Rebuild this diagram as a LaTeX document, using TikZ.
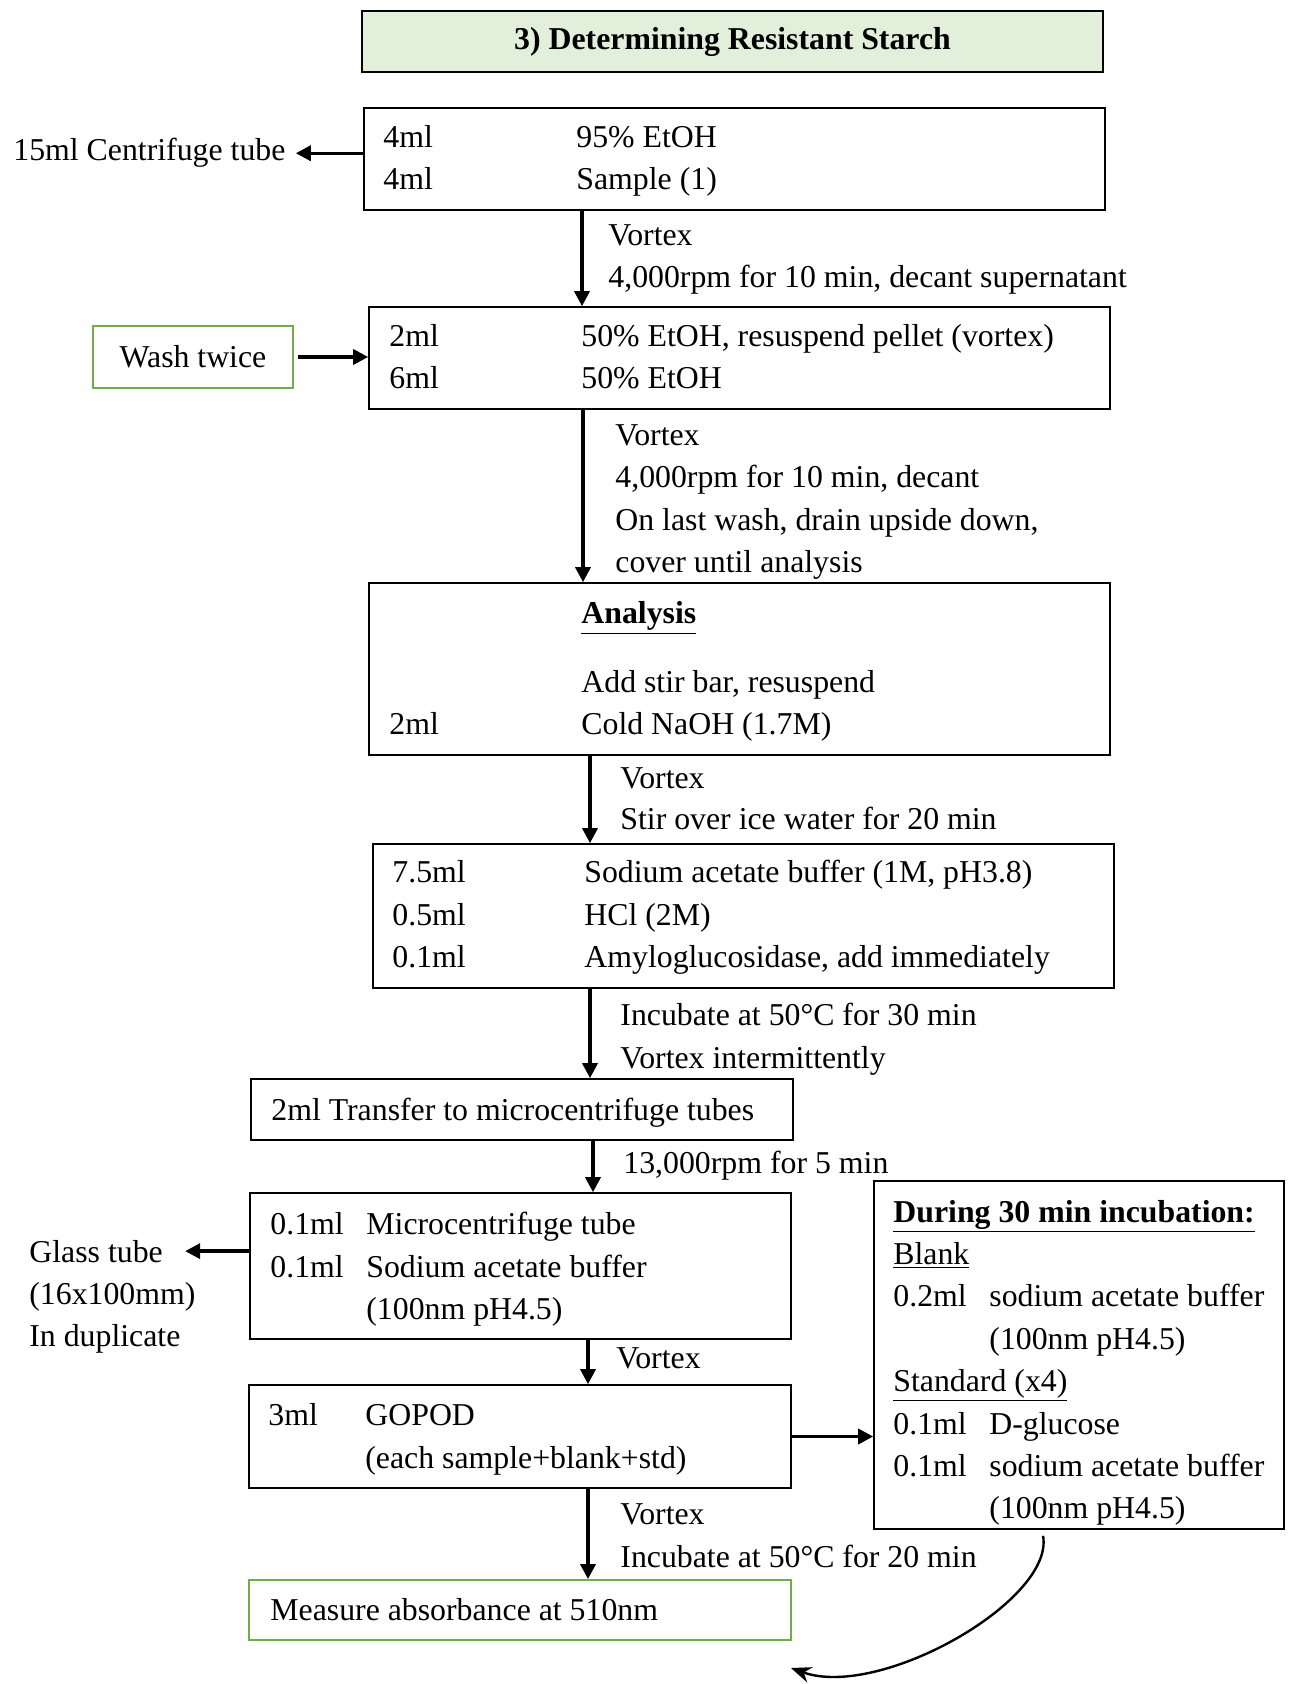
\documentclass[tikz,border=0pt]{standalone}
\usepackage{fontspec}
\setmainfont{Liberation Serif}
\usetikzlibrary{arrows.meta}
\definecolor{gborder}{HTML}{70AD47}
\definecolor{gfill}{HTML}{E2EFDA}
\begin{document}
\begin{tikzpicture}[x=0.5pt,y=-0.5pt,
    font=\fontsize{15.9pt}{19pt}\selectfont,
    box/.style={draw, line width=0.8pt, inner sep=0pt},
    gbox/.style={draw=gborder, line width=0.9pt, inner sep=0pt},
    txt/.style={anchor=mid west, inner sep=0pt, yshift=-3.2pt},
    arr/.style={line width=1.7pt, -{Triangle[length=7.5pt,width=7.5pt]}},
    curvearr/.style={line width=1.2pt, -{Stealth[length=10pt,width=8pt]}}]
  \useasboundingbox (0,0) rectangle (1293,1684);
  % title
  \node[box, fill=gfill, line width=1.2pt, minimum width=370.5pt, minimum height=30.5pt]
    (title) at (732.5,41.5) {\textbf{3) Determining Resistant Starch}};
  % boxes
  \node[box, minimum width=370.5pt, minimum height=51pt] (b1) at (734.5,159) {};
  \node[box, minimum width=370.5pt, minimum height=51pt] (b2) at (739.5,358) {};
  \node[box, minimum width=370.5pt, minimum height=86pt] (b3) at (739.5,669) {};
  \node[box, minimum width=370.5pt, minimum height=72pt] (b4) at (743.5,916) {};
  \node[box, minimum width=271pt, minimum height=30.5pt] (b5) at (522,1109.5) {};
  \node[box, minimum width=270.5pt, minimum height=73pt] (b6) at (520.5,1266) {};
  \node[box, minimum width=271pt, minimum height=51.5pt] (b7) at (520,1436.5) {};
  \node[gbox, minimum width=271pt, minimum height=30pt] (meas) at (520,1610) {};
  \node[box, minimum width=205pt, minimum height=174pt] (dur) at (1079,1355) {};
  \node[gbox, minimum width=100pt, minimum height=31pt] (wash) at (193,357) {Wash twice\hspace{5pt}};
  % box texts
  \node[txt] (b1a) at (383,137) {4ml};
  \node[txt] (b1b) at (576,137) {95\% EtOH};
  \node[txt] (b1c) at (383,179) {4ml};
  \node[txt] (b1d) at (576,179) {Sample (1)};
  \node[txt] (b2a) at (389,336) {2ml};
  \node[txt] (b2b) at (581,336) {50\% EtOH, resuspend pellet (vortex)};
  \node[txt] (b2c) at (389,378) {6ml};
  \node[txt] (b2d) at (581,378) {50\% EtOH};
  \node[txt] (b3a) at (581,613) {\underline{\textbf{Analysis}}};
  \node[txt] (b3b) at (581,682) {Add stir bar, resuspend};
  \node[txt] (b3c) at (389,724) {2ml};
  \node[txt] (b3d) at (581,724) {Cold NaOH (1.7M)};
  \node[txt] (b4a) at (392,872) {7.5ml};
  \node[txt] (b4b) at (584,872) {Sodium acetate buffer (1M, pH3.8)};
  \node[txt] (b4c) at (392,915) {0.5ml};
  \node[txt] (b4d) at (584,915) {HCl (2M)};
  \node[txt] (b4e) at (392,957) {0.1ml};
  \node[txt] (b4f) at (584,957) {Amyloglucosidase, add immediately};
  \node[txt] (b5a) at (271,1109) {2ml Transfer to microcentrifuge tubes};
  \node[txt] (b6a) at (270,1223) {0.1ml};
  \node[txt] (b6b) at (366,1223) {Microcentrifuge tube};
  \node[txt] (b6c) at (270,1266) {0.1ml};
  \node[txt] (b6d) at (366,1266) {Sodium acetate buffer};
  \node[txt] (b6e) at (366,1308) {(100nm pH4.5)};
  \node[txt] (b7a) at (268,1414) {3ml};
  \node[txt] (b7b) at (365,1414) {GOPOD};
  \node[txt] (b7c) at (365,1457) {(each sample+blank+std)};
  \node[txt] (measa) at (270,1609) {Measure absorbance at 510nm};
  \node[txt] (dura) at (893,1211) {\underline{\textbf{During 30 min incubation:}}};
  \node[txt] (durb) at (893,1253) {\underline{Blank}};
  \node[txt] (durc) at (893,1295) {0.2ml};
  \node[txt] (durd) at (989,1295) {sodium acetate buffer};
  \node[txt] (dure) at (989,1338) {(100nm pH4.5)};
  \node[txt] (durf) at (893,1380) {\underline{Standard (x4)}};
  \node[txt] (durg) at (893,1423) {0.1ml};
  \node[txt] (durh) at (989,1423) {D-glucose};
  \node[txt] (duri) at (893,1465) {0.1ml};
  \node[txt] (durj) at (989,1465) {sodium acetate buffer};
  \node[txt] (durk) at (989,1507) {(100nm pH4.5)};
  % side texts
  \node[txt] (tube) at (13,150) {15ml Centrifuge tube};
  \node[txt] (glass) at (29,1251) {Glass tube};
  \node[txt] (glassb) at (29,1293) {(16x100mm)};
  \node[txt] (glassc) at (29,1335) {In duplicate};
  % step labels
  \node[txt] (s1a) at (608,235) {Vortex};
  \node[txt] (s1b) at (608,277) {4,000rpm for 10 min, decant supernatant};
  \node[txt] (s2a) at (615,435) {Vortex};
  \node[txt] (s2b) at (615,477) {4,000rpm for 10 min, decant};
  \node[txt] (s2c) at (615,520) {On last wash, drain upside down,};
  \node[txt] (s2d) at (615,562) {cover until analysis};
  \node[txt] (s3a) at (620,778) {Vortex};
  \node[txt] (s3b) at (620,819) {Stir over ice water for 20 min};
  \node[txt] (s4a) at (620,1014) {Incubate at 50°C for 30 min};
  \node[txt] (s4b) at (620,1057) {Vortex intermittently};
  \node[txt] (s5a) at (623,1162) {13,000rpm for 5 min};
  \node[txt] (s6a) at (616,1357) {Vortex};
  \node[txt] (s7a) at (620,1513) {Vortex};
  \node[txt] (s7b) at (620,1556) {Incubate at 50°C for 20 min};
  % arrow axes
  \coordinate (ax1) at (582,0);
  \coordinate (ax2) at (583,0);
  \coordinate (ax3) at (590,0);
  \coordinate (ax5) at (593,0);
  \coordinate (ax6) at (588,0);
  \coordinate (back) at (791,1668);
  % connectors
  \draw[arr] (b1.south -| ax1) -- (b2.north -| ax1);
  \draw[arr] (b2.south -| ax2) -- (b3.north -| ax2);
  \draw[arr] (b3.south -| ax3) -- (b4.north -| ax3);
  \draw[arr] (b4.south -| ax3) -- (b5.north -| ax3);
  \draw[arr] (b5.south -| ax5) -- (b6.north -| ax5);
  \draw[arr] (b6.south -| ax6) -- (b7.north -| ax6);
  \draw[arr] (b7.south -| ax6) -- (meas.north -| ax6);
  \draw[arr] (b1.west |- tube) -- ([xshift=5pt]tube.east);
  \draw[arr] ([xshift=2pt]wash.east) -- (b2.west |- wash.east);
  \draw[arr] (b6.west |- glass) -- ([xshift=11pt]glass.east);
  \draw[arr] (b7.east) -- (dur.west |- b7.east);
  \draw[curvearr] ([xshift=-18pt,yshift=-3pt]dur.south) .. controls (1055,1600) and (880,1700) .. (back);
\end{tikzpicture}
\end{document}
